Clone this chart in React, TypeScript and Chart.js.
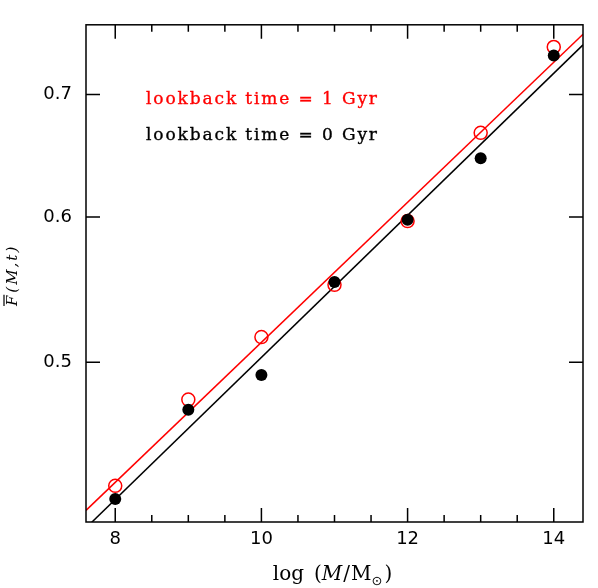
import React, { useEffect, useRef } from "react";
import { Chart, registerables } from "chart.js";

Chart.register(...registerables);

// ---- data ----
const massBins = [8, 9, 10, 11, 12, 13, 14];
const fracT0 = [0.421, 0.471, 0.492, 0.553, 0.598, 0.646, 0.735];
const fracT1 = [0.428, 0.477, 0.516, 0.551, 0.597, 0.667, 0.743];
const fitX = [7.6, 14.4];
const fitT0 = [0.406, 0.745];
const fitT1 = [0.415, 0.755];
const xMin = 7.6;
const xMax = 14.4;
const yMin = 0.409;
const yMax = 0.764;
const xMajorTicks = [8, 10, 12, 14];
const xMinorTicks = [8.5, 9, 9.5, 10.5, 11, 11.5, 12.5, 13, 13.5];
const yTicks = [0.5, 0.6, 0.7];
const legendLabels = ["lookback time = 1 Gyr", "lookback time = 0 Gyr"];
const legendColors = ["#ff0000", "#000000"];

const RED = "#ff0000";
const BLACK = "#000000";

const framePlugin = {
  id: "frame",
  afterDraw(chart: any) {
    const { ctx, chartArea: ca } = chart;
    const xs = chart.scales.x;
    const ys = chart.scales.y;
    ctx.save();
    ctx.strokeStyle = BLACK;
    ctx.lineWidth = 1.5;
    ctx.strokeRect(ca.left, ca.top, ca.right - ca.left, ca.bottom - ca.top);

    const major = 14;
    const minor = 7;
    ctx.beginPath();
    xMajorTicks.forEach((v) => {
      const px = xs.getPixelForValue(v);
      ctx.moveTo(px, ca.bottom);
      ctx.lineTo(px, ca.bottom - major);
      ctx.moveTo(px, ca.top);
      ctx.lineTo(px, ca.top + major);
    });
    xMinorTicks.forEach((v) => {
      const px = xs.getPixelForValue(v);
      ctx.moveTo(px, ca.bottom);
      ctx.lineTo(px, ca.bottom - minor);
      ctx.moveTo(px, ca.top);
      ctx.lineTo(px, ca.top + minor);
    });
    yTicks.forEach((v) => {
      const py = ys.getPixelForValue(v);
      ctx.moveTo(ca.left, py);
      ctx.lineTo(ca.left + major, py);
      ctx.moveTo(ca.right, py);
      ctx.lineTo(ca.right - major, py);
    });
    ctx.stroke();

    // legend text
    ctx.textAlign = "left";
    ctx.textBaseline = "alphabetic";
    ctx.font = "17px 'DejaVu Serif'";
    legendLabels.forEach((t, i) => {
      (ctx as any).letterSpacing = "0px";
      const w = ctx.measureText(t).width;
      const sp = Math.max(0, (231 - w) / (t.length - 1));
      (ctx as any).letterSpacing = `${sp}px`;
      ctx.fillStyle = legendColors[i];
      ctx.strokeStyle = legendColors[i];
      ctx.lineWidth = 0.35;
      ctx.fillText(t, ca.left + 60, ca.top + 79.5 + i * 36);
      ctx.strokeText(t, ca.left + 60, ca.top + 79.5 + i * 36);
    });
    (ctx as any).letterSpacing = "0px";
    ctx.strokeStyle = BLACK;

    // x title: log (M/M⊙)
    ctx.fillStyle = BLACK;
    const normal = "20px 'DejaVu Serif'";
    const italic = "italic 20px 'DejaVu Serif'";
    const sub = "13px 'DejaVu Sans'";
    const segs: [string, string, number, number][] = [
      ["log", normal, 0, 0],
      ["(", normal, 0, 10],
      ["M", italic, 0, 0],
      ["/", normal, 0, 1],
      ["M", normal, 0, 1],
      ["\u2299", sub, 5, 0],
      [")", normal, 0, 2],
    ];
    let total = 0;
    const widths = segs.map(([t, f, , gap]) => {
      ctx.font = f;
      const w = ctx.measureText(t).width;
      total += w + gap;
      return w;
    });
    let cx = (ca.left + ca.right) / 2 - 2 - total / 2;
    const base = 580;
    segs.forEach(([t, f, dy, gap], i) => {
      cx += gap;
      ctx.font = f;
      ctx.fillText(t, cx, base + dy);
      cx += widths[i];
    });

    // y title: F̄(M,t)
    ctx.save();
    ctx.translate(17, (ca.top + ca.bottom) / 2 + 2);
    ctx.rotate(-Math.PI / 2);
    ctx.font = "italic 15px 'DejaVu Serif'";
    const fW = ctx.measureText("F").width;
    const rest = "(M,t)";
    (ctx as any).letterSpacing = "2px";
    const rW = ctx.measureText(rest).width;
    const totalY = fW + 3 + rW;
    const x0 = -totalY / 2;
    (ctx as any).letterSpacing = "0px";
    ctx.fillText("F", x0, 0);
    (ctx as any).letterSpacing = "2px";
    ctx.fillText(rest, x0 + fW + 3, 0);
    (ctx as any).letterSpacing = "0px";
    ctx.lineWidth = 1.2;
    ctx.beginPath();
    ctx.moveTo(x0, -13);
    ctx.lineTo(x0 + fW + 1, -13);
    ctx.stroke();
    ctx.restore();

    ctx.restore();
  },
};

export default function App() {
  const ref = useRef<HTMLCanvasElement | null>(null);

  useEffect(() => {
    if (!ref.current) return;
    const chart = new Chart(ref.current, {
      type: "scatter",
      data: {
        datasets: [
          {
            label: "lookback time = 0 Gyr",
            data: massBins.map((x, i) => ({ x, y: fracT0[i] })),
            showLine: false,
            pointRadius: 6,
            pointHoverRadius: 6,
            pointBackgroundColor: BLACK,
            pointBorderColor: BLACK,
            pointBorderWidth: 0,
            order: 0,
          },
          {
            label: "lookback time = 1 Gyr",
            data: massBins.map((x, i) => ({ x, y: fracT1[i] })),
            showLine: false,
            pointRadius: 6.5,
            pointHoverRadius: 6.5,
            pointBackgroundColor: "rgba(0,0,0,0)",
            pointBorderColor: RED,
            pointBorderWidth: 1.5,
            order: 1,
          },
          {
            label: "fit 0 Gyr",
            data: fitX.map((x, i) => ({ x, y: fitT0[i] })),
            showLine: true,
            pointRadius: 0,
            borderColor: BLACK,
            borderWidth: 1.5,
            clip: 0,
            order: 2,
          },
          {
            label: "fit 1 Gyr",
            data: fitX.map((x, i) => ({ x, y: fitT1[i] })),
            showLine: true,
            pointRadius: 0,
            borderColor: RED,
            borderWidth: 1.5,
            clip: 0,
            order: 3,
          },
        ],
      },
      options: {
        responsive: false,
        animation: false,
        layout: { padding: { top: 24, right: 15, left: 0, bottom: 0 } },
        plugins: { legend: { display: false }, tooltip: { enabled: false } },
        scales: {
          x: {
            type: "linear",
            min: xMin,
            max: xMax,
            afterBuildTicks: (s: any) => {
              s.ticks = xMajorTicks.map((v) => ({ value: v }));
            },
            afterFit: (s: any) => {
              s.height = 66;
            },
            ticks: {
              color: BLACK,
              font: { family: "'DejaVu Sans'", size: 18 },
              padding: 7,
              maxRotation: 0,
              callback: (v: any) => String(v),
            },
            grid: { display: false, drawTicks: false },
            border: { display: false },
          },
          y: {
            type: "logarithmic",
            min: yMin,
            max: yMax,
            afterBuildTicks: (s: any) => {
              s.ticks = yTicks.map((v) => ({ value: v }));
            },
            afterFit: (s: any) => {
              s.width = 86;
            },
            ticks: {
              color: BLACK,
              font: { family: "'DejaVu Sans'", size: 18 },
              padding: 14,
              callback: (v: any) => Number(v).toFixed(1),
            },
            grid: { display: false, drawTicks: false },
            border: { display: false },
          },
        },
      },
      plugins: [framePlugin],
    });
    return () => chart.destroy();
  }, []);

  return (
    <div style={{ position: "fixed", left: 0, top: 0, width: 598, height: 588, background: "#fff" }}>
      <canvas ref={ref} width={598} height={588} />
    </div>
  );
}
